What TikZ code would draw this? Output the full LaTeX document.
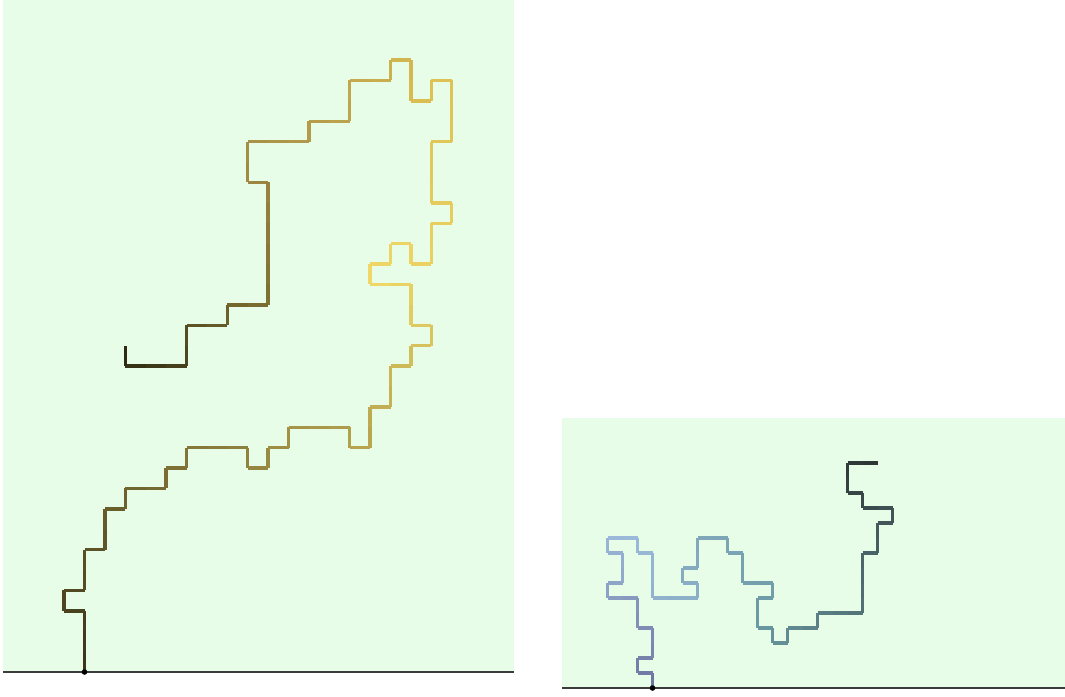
\documentclass[tikz,border=0pt]{standalone}
\usepackage{xcolor}
\definecolor{panelbg}{HTML}{E8FDE8}
\definecolor{axisgray}{HTML}{3C3C3C}
\definecolor{la}{HTML}{3A3518}\definecolor{lb}{HTML}{F0D868}
\definecolor{lc}{HTML}{DCC052}\definecolor{ld}{HTML}{A89048}
\definecolor{le}{HTML}{786A30}\definecolor{lf}{HTML}{2A2810}
\definecolor{ra}{HTML}{6E74A0}\definecolor{rb}{HTML}{9CBADA}
\definecolor{rc}{HTML}{6A9AA2}\definecolor{rd}{HTML}{2E3434}

\newcount\walkn
% pick colour segc for t in 0..100 from a stop list t/colour
\newcommand\walkcolor[2]{%
  \foreach \ta/\ca [remember=\ta as \tp (initially -1),remember=\ca as \cp (initially black)] in {#2}{%
    \pgfmathtruncatemacro\inr{(#1>=\tp)*(#1<=\ta)}%
    \ifnum\inr=1
      \pgfmathsetmacro\pmix{100*(#1-\tp)/(\ta-\tp)}%
      \xglobal\colorlet{segc}{\ca!\pmix!\cp}%
    \fi}}
% #1,#2 start, #3 unit, #4 steps, #5 stops, #6 moves dx/dy/len
\newcommand\drawwalk[6]{%
  \global\walkn=0 \xdef\wx{#1}\xdef\wy{#2}%
  \foreach \dx/\dy/\k in {#6}{%
    \foreach \i in {1,...,\k}{%
      \global\advance\walkn by 1
      \pgfmathsetmacro\tt{100*(\the\walkn-0.5)/#4}%
      \walkcolor{\tt}{#5}%
      \pgfmathsetmacro\nx{\wx+#3*\dx}\pgfmathsetmacro\ny{\wy-#3*\dy}%
      \draw[walk,segc] (\wx,\wy)--(\nx,\ny);
      \xdef\wx{\nx}\xdef\wy{\ny}}}}

\begin{document}
\begin{tikzpicture}[x=1pt,y=-1pt,
  walk/.style={line width=3.4pt,line cap=square},
  base/.style={draw=axisgray,line width=1.2pt}]
\useasboundingbox (0,0) rectangle (1065,696);
% panels
\fill[panelbg] (3,0) rectangle (514,672);
\fill[panelbg] (562,418) rectangle (1065,688);
\draw[base] (3,672)--(514,672);
\draw[base] (562,688)--(1065,688);
% left walk
\drawwalk{84.5}{672}{20.4}{100}{0/la,45/lb,65/lc,80/ld,90/le,100/lf}{0/1/3,-1/0/1,0/1/1,1/0/1,0/1/2,1/0/1,0/1/2,1/0/1,0/1/1,1/0/2,0/1/1,1/0/1,0/1/1,1/0/3,0/-1/1,1/0/1,0/1/1,1/0/1,0/1/1,1/0/3,0/-1/1,1/0/1,0/1/2,1/0/1,0/1/2,1/0/1,0/1/1,1/0/1,0/1/1,-1/0/1,0/1/2,-1/0/2,0/1/1,1/0/1,0/1/1,1/0/1,0/-1/1,1/0/1,0/1/2,1/0/1,0/1/1,-1/0/1,0/1/3,1/0/1,0/1/3,-1/0/1,0/-1/1,-1/0/1,0/1/2,-1/0/1,0/-1/1,-1/0/2,0/-1/2,-1/0/2,0/-1/1,-1/0/3,0/-1/2,1/0/1,0/-1/6,-1/0/2,0/-1/1,-1/0/2,0/-1/2,-1/0/3,0/1/1}
% right walk
\drawwalk{652.5}{688}{15}{72}{0/ra,25/rb,62/rc,100/rd}{0/1/1,-1/0/1,0/1/1,1/0/1,0/1/2,-1/0/1,0/1/2,-1/0/2,0/1/1,1/0/1,0/1/2,-1/0/1,0/1/1,1/0/2,0/-1/1,1/0/1,0/-1/3,1/0/3,0/1/1,-1/0/1,0/1/1,1/0/1,0/1/2,1/0/2,0/-1/1,1/0/1,0/-1/2,1/0/2,0/-1/1,-1/0/1,0/-1/2,1/0/1,0/-1/1,1/0/1,0/1/1,1/0/2,0/1/1,1/0/3,0/1/4,1/0/1,0/1/2,1/0/1,0/1/1,-1/0/2,0/1/1,-1/0/1,0/1/2,1/0/2}
% start dots
\fill (84.5,672) circle (2.8);
\fill (652.5,688) circle (2.8);
\end{tikzpicture}
\end{document}
